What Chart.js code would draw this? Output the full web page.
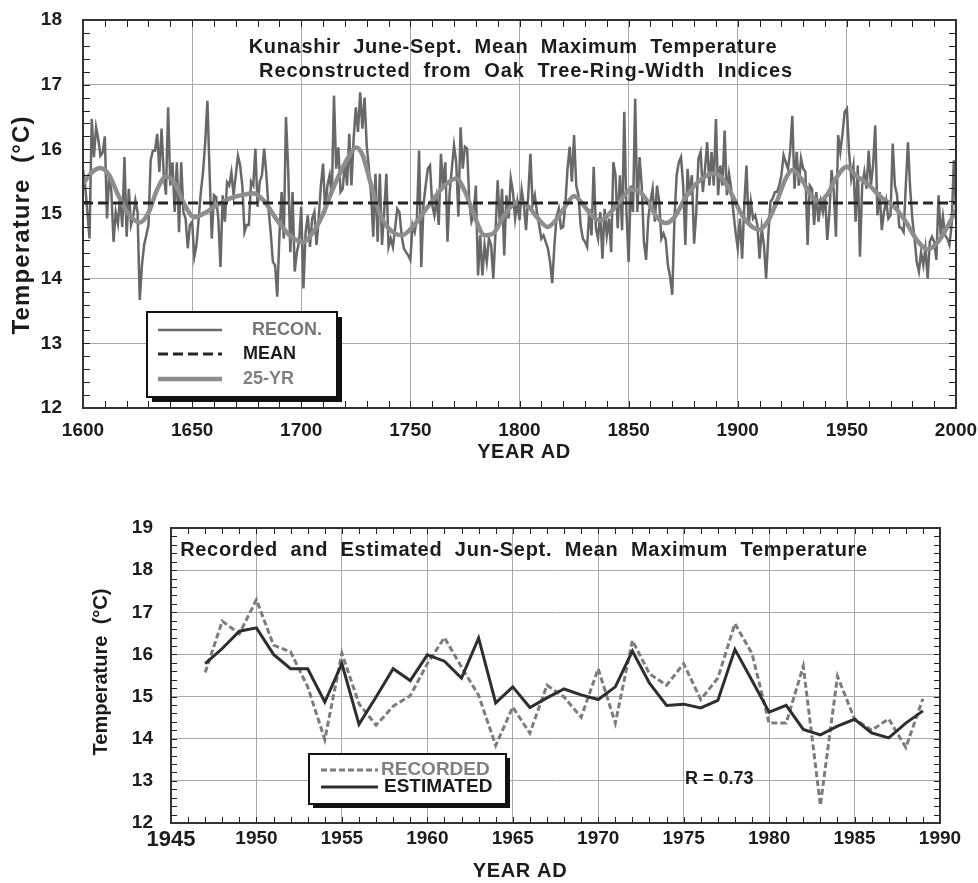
<!DOCTYPE html>
<html>
<head>
<meta charset="utf-8">
<title>Kunashir June-Sept. Mean Maximum Temperature</title>
<script src="https://cdn.jsdelivr.net/npm/chart.js@4.4.1/dist/chart.umd.min.js"></script>
<style>
  body { margin: 0; background: #fff; }
  #page { position: relative; width: 978px; height: 883px; }
  canvas { position: absolute; left: 0; }
  #top-chart { top: 0; }
  #bottom-chart { top: 480px; }
</style>
</head>
<body>
<div id="page">
  <canvas id="top-chart" width="978" height="470"></canvas>
  <canvas id="bottom-chart" width="978" height="403"></canvas>
</div>
<script>
/* =============================================
   Kunashir tree-ring temperature reconstruction
   two Chart.js panels
   ============================================= */

// ── Data: reconstruction 1600–2000 (one value per year) ─────────────────────
const reconStartYear = 1600;
const reconTemps = [
  15.68, 15.44, 15.03, 14.62, 16.47, 15.88, 16.34, 16.16, 15.90, 15.95,
  16.20, 14.93, 15.62, 15.34, 14.57, 15.03, 14.85, 15.26, 14.80, 15.88,
  14.65, 15.39, 14.83, 14.96, 15.21, 15.03, 13.67, 14.21, 14.52, 14.67,
  14.83, 15.83, 15.98, 15.98, 16.24, 15.65, 16.32, 15.60, 15.30, 16.65,
  15.44, 15.80, 15.03, 15.80, 14.72, 15.80, 15.03, 14.93, 14.47, 14.83,
  14.88, 14.34, 14.52, 14.93, 15.34, 15.65, 16.11, 16.75, 15.65, 14.62,
  15.29, 15.26, 14.93, 14.18, 15.29, 14.88, 15.49, 15.44,
  // 1668
  15.64, 15.29, 15.60, 15.90, 15.75, 15.44, 14.72, 14.83, 14.83, 15.50,
  15.44, 16.01, 15.11, 15.50, 15.60, 16.01, 15.62, 15.08, 14.72, 14.26,
  14.21, 13.72, 14.67, 15.34, 14.62, 16.50, 15.70, 14.41, 15.34, 14.11,
  14.41, 14.57, 15.11, 13.85, 14.72, 14.98, 14.49, 14.93, 15.03, 14.52,
  14.93, 15.44, 15.78, 15.03, 15.44, 15.60, 15.29, 16.83, 15.70, 16.03,
  15.34, 15.39, 15.80, 15.44, 16.24, 15.44, 16.16, 16.65, 16.27, 16.88,
  16.32, 16.80, 16.06, 15.70, 15.29, 14.65,
  // 1734
  15.62, 14.57, 15.62, 14.52, 15.03, 15.62, 14.49, 14.62, 14.49, 14.78,
  15.08, 15.03, 14.67, 14.47, 14.41, 14.36, 14.29, 14.83, 14.72, 14.93,
  15.98, 14.18, 15.14, 15.44, 15.70, 15.75, 15.14, 14.98, 15.24, 14.83,
  15.93, 15.44, 15.80, 14.57, 15.34, 15.70, 16.06, 15.80, 14.96, 16.34,
  15.70, 16.04, 16.01, 15.19, 14.88, 14.98, 15.44, 14.05, 14.67, 14.05,
  14.52, 14.26, 14.62, 14.52, 14.00, 14.72, 15.52, 14.83, 15.39, 14.36,
  15.29, 14.93, 15.55, 15.34, 14.93, 15.19,
  // 1800
  14.90, 15.37, 15.14, 14.75, 15.29, 15.93, 15.14, 15.29, 15.03, 14.83,
  14.62, 14.67, 14.57, 14.47, 14.26, 13.93, 14.52, 14.96, 15.08, 14.78,
  14.80, 15.14, 15.70, 16.04, 15.50, 16.22, 15.44, 15.29, 14.83, 14.62,
  14.57, 14.49, 15.08, 14.67, 15.73, 14.78, 14.62, 15.03, 14.31, 15.08,
  14.67, 14.93, 14.41, 15.80, 15.60, 14.78, 15.60, 14.75, 16.58, 15.03,
  14.26, 15.44, 15.03, 16.78, 15.03, 15.88, 15.44, 14.57, 14.29, 14.93,
  15.19, 15.39, 14.88, 15.44, 15.19, 14.62,
  // 1866
  14.70, 14.60, 14.21, 14.03, 13.75, 14.93, 15.60, 15.80, 15.88, 15.44,
  14.52, 15.70, 15.29, 15.60, 14.54, 15.03, 15.86, 15.96, 15.34, 15.70,
  16.11, 15.44, 15.96, 15.44, 16.47, 15.29, 15.75, 15.44, 16.29, 15.29,
  15.62, 15.39, 15.03, 14.72, 14.47, 14.93, 14.31, 15.14, 15.75, 14.83,
  15.19, 14.93, 14.98, 14.83, 14.31, 14.78, 14.52, 14.00, 14.67, 15.19,
  15.24, 15.34, 15.34, 15.44, 15.60, 15.91, 15.80, 15.70, 15.96, 16.52,
  15.39, 15.96, 15.44, 15.86, 15.70, 15.65, 14.52,
  // 1933
  15.44, 15.39, 14.83, 15.34, 14.88, 15.19, 15.03, 15.29, 14.60, 15.03,
  15.68, 15.34, 14.65, 16.22, 15.96, 16.24, 16.58, 16.63, 15.96, 15.55,
  15.75, 14.88, 15.75, 14.34, 15.44, 15.65, 15.39, 15.98, 15.44, 15.75,
  16.37, 14.98, 15.34, 14.75, 15.03, 15.21, 14.93, 14.98, 16.09, 15.44,
  15.29, 14.80, 14.78, 14.72, 15.44, 16.11, 15.39, 14.93, 14.62, 14.26,
  14.11, 14.41, 14.21, 14.47, 14.00, 14.57, 14.65, 14.57, 14.29, 15.29,
  14.67, 14.96, 14.67, 14.62, 14.52, 14.83, 15.83, 15.06,
];

// 25-year smoothing spline, read at its turning points
const smoothYears = [
  1600, 1604, 1608, 1612, 1616, 1620, 1626, 1630, 1634, 1638, 1642, 1646,
  1651, 1656, 1662, 1668, 1674, 1678, 1683, 1689, 1695, 1701, 1706, 1710,
  1714, 1718, 1722, 1725, 1728, 1732, 1736, 1740, 1746, 1751, 1756, 1761,
  1766, 1771, 1775, 1779, 1784, 1788, 1793, 1799, 1804, 1808, 1813, 1817,
  1821, 1825, 1829, 1833, 1837, 1841, 1846, 1851, 1855, 1860, 1863, 1867,
  1871, 1876, 1882, 1889, 1893, 1897, 1902, 1906, 1910, 1914, 1918, 1922,
  1925, 1929, 1933, 1937, 1941, 1945, 1950, 1954, 1960, 1966, 1972, 1977,
  1982, 1987, 1992, 1996, 2000,
];
const smoothTemps = [
  15.47, 15.64, 15.71, 15.60, 15.30, 15.04, 14.87, 15.02, 15.38, 15.58, 15.48, 15.18,
  14.95, 15.02, 15.15, 15.25, 15.30, 15.32, 15.20, 14.90, 14.66, 14.57, 14.75, 15.00,
  15.35, 15.65, 15.90, 16.03, 15.92, 15.45, 15.00, 14.78, 14.67, 14.80, 15.02, 15.25,
  15.45, 15.55, 15.35, 15.00, 14.67, 14.70, 14.98, 15.18, 15.12, 14.95, 14.80, 14.92,
  15.12, 15.28, 15.15, 14.98, 14.90, 15.00, 15.20, 15.38, 15.35, 15.12, 14.95, 14.86,
  14.95, 15.25, 15.50, 15.63, 15.55, 15.32, 14.98, 14.82, 14.76, 14.90, 15.20, 15.55,
  15.68, 15.55, 15.32, 15.20, 15.30, 15.55, 15.73, 15.60, 15.45, 15.25, 15.10, 14.88,
  14.60, 14.45, 14.58, 14.80, 15.06,
];
const meanTemp = 15.17;

// ── Data: calibration period 1947–1989 ──────────────────────────────────────
const calibYears = [
  1947, 1948, 1949, 1950, 1951, 1952, 1953, 1954, 1955, 1956, 1957, 1958,
  1959, 1960, 1961, 1962, 1963, 1964, 1965, 1966, 1967, 1968, 1969, 1970,
  1971, 1972, 1973, 1974, 1975, 1976, 1977, 1978, 1979, 1980, 1981, 1982,
  1983, 1984, 1985, 1986, 1987, 1988, 1989,
];
const recordedTemps = [
  15.57, 16.79, 16.49, 17.30, 16.22, 16.06, 15.23, 13.98, 16.03, 14.83, 14.32, 14.77,
  15.02, 15.78, 16.40, 15.70, 15.03, 13.84, 14.75, 14.13, 15.27, 14.99, 14.51, 15.66,
  14.37, 16.33, 15.54, 15.27, 15.78, 14.93, 15.44, 16.73, 16.02, 14.37, 14.37, 15.72,
  12.42, 15.48, 14.47, 14.20, 14.47, 13.79, 14.95,
];
const estimatedTemps = [
  15.78, 16.14, 16.55, 16.63, 16.00, 15.66, 15.66, 14.87, 15.78, 14.34, 14.99, 15.66,
  15.38, 15.99, 15.84, 15.44, 16.39, 14.85, 15.23, 14.74, 14.97, 15.18, 15.04, 14.93,
  15.23, 16.08, 15.32, 14.79, 14.82, 14.73, 14.91, 16.12, 15.38, 14.63, 14.79, 14.22,
  14.09, 14.30, 14.46, 14.14, 14.02, 14.37, 14.66,
];

// ── Shared styling ──────────────────────────────────────────────────────────
const FONT = '"Liberation Sans", Arial, Helvetica, sans-serif';
const INK  = '#1c1c1c';
const GRID = '#a9a9a9';

const STYLE = {
  recon:     { color: '#686868', width: 2.5, dash: [] },
  mean:      { color: '#262626', width: 3.2, dash: [10, 5] },
  smooth:    { color: '#8d8d8d', width: 4.5, dash: [] },
  recorded:  { color: '#7c7c7c', width: 3,   dash: [6, 3] },
  estimated: { color: '#2e2e2e', width: 3,   dash: [] },
};

function drawLabel(ctx, t) {
  ctx.save();
  ctx.font = `bold ${t.size}px ${FONT}`;
  ctx.fillStyle = t.color || INK;
  ctx.textBaseline = 'middle';
  ctx.textAlign = t.align || 'center';
  ctx.letterSpacing = '0px';
  if (t.width) {
    const natural = ctx.measureText(t.text).width;
    ctx.letterSpacing = ((t.width - natural) / (t.text.length - 1)).toFixed(2) + 'px';
  }
  ctx.translate(t.x, t.y);
  if (t.rotate) ctx.rotate(t.rotate);
  ctx.fillText(t.text, 0, 0);
  ctx.restore();
}

function drawLegend(ctx, lg) {
  const b = lg.box;
  ctx.save();
  ctx.fillStyle = '#111';
  ctx.fillRect(b.x + b.shadow, b.y + b.shadow, b.w, b.h);
  ctx.fillStyle = '#fff';
  ctx.fillRect(b.x, b.y, b.w, b.h);
  ctx.strokeStyle = '#111';
  ctx.lineWidth = 2;
  ctx.strokeRect(b.x, b.y, b.w, b.h);
  lg.items.forEach(it => {
    ctx.beginPath();
    ctx.setLineDash(it.style.dash);
    ctx.strokeStyle = it.style.color;
    ctx.lineWidth = it.style.width;
    ctx.moveTo(lg.x0, it.y);
    ctx.lineTo(lg.x1, it.y);
    ctx.stroke();
    ctx.setLineDash([]);
    drawLabel(ctx, { text: it.label, x: it.tx, y: it.y, size: lg.size, color: it.color, align: 'left' });
  });
  ctx.restore();
}

// minor ticks, frame, legend and free text drawn over each panel
function makeDecor(cfg) {
  return {
    id: 'decor',
    afterDraw(chart) {
      const { ctx, chartArea: a, scales: { x, y } } = chart;
      ctx.save();
      ctx.strokeStyle = '#222';
      ctx.lineWidth = 1;
      ctx.beginPath();
      const nx = Math.round((x.max - x.min) / cfg.xMinor);
      for (let i = 0; i <= nx; i++) {
        const px = Math.round(x.getPixelForValue(x.min + i * cfg.xMinor)) + 0.5;
        ctx.moveTo(px, a.top);    ctx.lineTo(px, a.top + cfg.tickLen);
        ctx.moveTo(px, a.bottom); ctx.lineTo(px, a.bottom - cfg.tickLen);
      }
      const ny = Math.round((y.max - y.min) / cfg.yMinor);
      for (let i = 0; i <= ny; i++) {
        const py = Math.round(y.getPixelForValue(y.min + i * cfg.yMinor)) + 0.5;
        ctx.moveTo(a.left, py);  ctx.lineTo(a.left + cfg.tickLen, py);
        ctx.moveTo(a.right, py); ctx.lineTo(a.right - cfg.tickLen, py);
      }
      ctx.stroke();
      ctx.strokeStyle = '#333';
      ctx.lineWidth = 2;
      ctx.strokeRect(a.left, a.top, a.width, a.height);
      ctx.restore();

      if (cfg.legend) drawLegend(ctx, cfg.legend);
      cfg.labels.forEach(t => drawLabel(ctx, t));
    },
  };
}

function lineDataset(label, points, style, order, extra) {
  return Object.assign({
    label,
    data: points,
    borderColor: style.color,
    borderWidth: style.width,
    borderDash: style.dash,
    pointRadius: 0,
    fill: false,
    tension: 0,
    order,
  }, extra || {});
}

function axisFont(size) {
  return { family: FONT, size, weight: 'bold' };
}

// fixed axis box, and no extra room asked for overhanging labels
function fixBox(prop, px) {
  return s => {
    s[prop] = px;
    s.paddingLeft = s.paddingRight = s.paddingTop = s.paddingBottom = 0;
  };
}

// ── Top panel: 1600–2000 reconstruction ─────────────────────────────────────
function renderReconChart() {
  const recon  = reconTemps.map((t, i) => ({ x: reconStartYear + i, y: t }));
  const smooth = smoothYears.map((yr, i) => ({ x: yr, y: smoothTemps[i] }));
  const mean   = [{ x: 1600, y: meanTemp }, { x: 2000, y: meanTemp }];

  const decor = makeDecor({
    xMinor: 10, yMinor: 0.2, tickLen: 7,
    legend: {
      box: { x: 147, y: 312, w: 190, h: 85, shadow: 5 },
      x0: 158, x1: 222, size: 18,
      items: [
        { label: 'RECON.', y: 330, tx: 252, color: '#777', style: STYLE.recon },
        { label: 'MEAN',   y: 354, tx: 243, color: INK,    style: STYLE.mean },
        { label: '25-YR',  y: 379, tx: 243, color: '#808080', style: STYLE.smooth },
      ],
    },
    labels: [
      { text: 'Kunashir  June-Sept.  Mean  Maximum  Temperature', x: 513, y: 47, size: 20, width: 528 },
      { text: 'Reconstructed  from  Oak  Tree-Ring-Width  Indices', x: 526, y: 71, size: 20, width: 533 },
      { text: 'YEAR AD', x: 524, y: 452, size: 20, width: 93 },
      { text: 'Temperature  (°C)', x: 22, y: 225, size: 24, width: 218, rotate: -Math.PI / 2 },
    ],
  });

  new Chart(document.getElementById('top-chart'), {
    type: 'line',
    data: {
      datasets: [
        lineDataset('RECON.', recon, STYLE.recon, 2),
        lineDataset('25-YR', smooth, STYLE.smooth, 1, { cubicInterpolationMode: 'monotone' }),
        lineDataset('MEAN', mean, STYLE.mean, 0),
      ],
    },
    options: {
      responsive: false,
      animation: false,
      layout: { padding: { top: 20, right: 22, left: 0, bottom: 0 } },
      plugins: { legend: { display: false }, tooltip: { enabled: false } },
      scales: {
        x: {
          type: 'linear',
          min: 1600,
          max: 2000,
          afterFit: fixBox('height', 62),
          ticks: { stepSize: 50, padding: 11, color: INK, font: axisFont(19), maxRotation: 0, autoSkip: false,
                   callback: v => String(v) },
          grid: { color: GRID, lineWidth: 1, drawTicks: false },
          border: { display: false },
        },
        y: {
          min: 12,
          max: 18,
          afterFit: fixBox('width', 83),
          ticks: { stepSize: 1, padding: 21, color: INK, font: axisFont(19) },
          grid: { color: GRID, lineWidth: 1, drawTicks: false },
          border: { display: false },
        },
      },
    },
    plugins: [decor],
  });
}

// ── Bottom panel: recorded vs estimated ─────────────────────────────────────
function renderCalibrationChart() {
  const recorded  = calibYears.map((yr, i) => ({ x: yr, y: recordedTemps[i] }));
  const estimated = calibYears.map((yr, i) => ({ x: yr, y: estimatedTemps[i] }));

  const decor = makeDecor({
    xMinor: 1, yMinor: 0.2, tickLen: 6,
    legend: {
      box: { x: 309, y: 274, w: 197, h: 50, shadow: 4 },
      x0: 321, x1: 378, size: 19,
      items: [
        { label: 'RECORDED',  y: 290, tx: 381, color: '#808080', style: STYLE.recorded },
        { label: 'ESTIMATED', y: 307, tx: 384, color: INK,       style: STYLE.estimated },
      ],
    },
    labels: [
      { text: 'Recorded  and  Estimated  Jun-Sept.  Mean  Maximum  Temperature', x: 524, y: 70, size: 20, width: 687 },
      { text: 'R = 0.73', x: 685, y: 299, size: 18, align: 'left' },
      { text: 'YEAR AD', x: 520, y: 391, size: 20, width: 94 },
      { text: 'Temperature  (°C)', x: 101, y: 192, size: 20, width: 167, rotate: -Math.PI / 2 },
    ],
  });

  new Chart(document.getElementById('bottom-chart'), {
    type: 'line',
    data: {
      datasets: [
        lineDataset('RECORDED', recorded, STYLE.recorded, 1),
        lineDataset('ESTIMATED', estimated, STYLE.estimated, 0),
      ],
    },
    options: {
      responsive: false,
      animation: false,
      layout: { padding: { top: 48, right: 38, left: 0, bottom: 0 } },
      plugins: { legend: { display: false }, tooltip: { enabled: false } },
      scales: {
        x: {
          type: 'linear',
          min: 1945,
          max: 1990,
          afterFit: fixBox('height', 60),
          ticks: {
            stepSize: 5, padding: 4, color: INK, maxRotation: 0, autoSkip: false,
            font: c => axisFont(c.tick && c.tick.value === 1945 ? 22 : 19),
            callback: v => String(v),
          },
          grid: { color: GRID, lineWidth: 1, drawTicks: false },
          border: { display: false },
        },
        y: {
          min: 12,
          max: 19,
          afterFit: fixBox('width', 171),
          ticks: { stepSize: 1, padding: 18, color: INK, font: axisFont(19) },
          grid: { color: GRID, lineWidth: 1, drawTicks: false },
          border: { display: false },
        },
      },
    },
    plugins: [decor],
  });
}

renderReconChart();
renderCalibrationChart();
</script>
</body>
</html>
